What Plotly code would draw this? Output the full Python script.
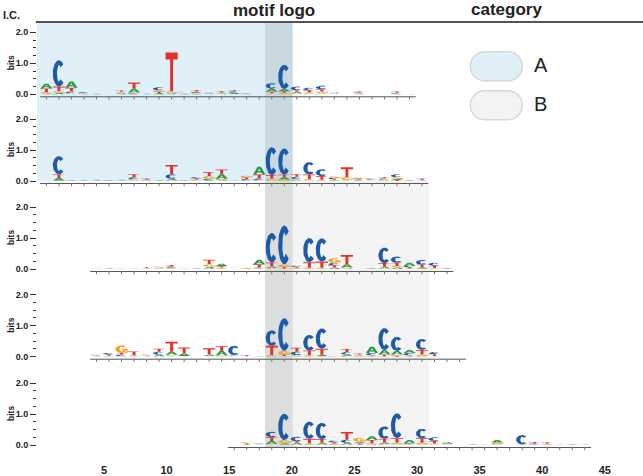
import numpy as np
import plotly.graph_objects as go

# ---------------- data ----------------
x_tick_vals = [5, 10, 15, 20, 25, 30, 35, 40, 45]
y_tick_vals = [0.0, 1.0, 2.0]
y_tick_text = ["0.0", "1.0", "2.0"]
letter_offset = 0.4          # logo columns sit at k + 0.4 on the position axis

categories = ["A", "B"]
category_span = {"A": (-0.35, 17.86), "B": (20.07, 30.98)}
core_span = (17.86, 20.07)

row1_start = 0
row1_A = [.15,.05,.20,.01,.01,0,.03,.12,.01,.04,.03,.02,.02,.02,.03,.04,.01,0,.10,.07,.05,.03,.03,.02,0,.01,0,0,.01,0]
row1_C = [.02,.85,.05,.03,.02,0,.02,.03,.01,.10,.02,.02,.04,.02,.01,.04,.01,0,.18,.78,.12,.08,.12,.02,0,.03,0,0,.03,.01]
row1_G = [.05,.05,.04,.01,0,0,.03,.03,.01,.05,.05,.03,.02,.01,.02,.01,0,0,.03,.05,.03,.03,.06,.01,0,.02,0,0,.01,0]
row1_T = [.12,.15,.12,.02,.01,0,.04,.20,.01,.04,1.25,.02,.05,.02,.04,.04,.01,0,.05,.05,.05,.07,.07,.01,0,.03,0,0,.04,.01]

row2_start = 0
row2_A = [0,.08,.01,.01,.01,.01,.01,.02,.02,.01,.05,.01,.02,.03,.15,.01,.02,.25,.02,.07,.03,.02,.02,.03,.02,.02,.02,.02,.04,.01,.01]
row2_C = [0,.58,.01,.01,.02,.01,.02,.06,.02,.01,.15,.01,.04,.05,.02,0,.04,.05,.90,.85,.08,.40,.22,.04,.02,.03,.03,.04,.10,.01,.02]
row2_G = [0,.02,.01,.01,.01,0,.01,.04,.01,.01,.02,.01,.03,.08,.05,0,.06,.03,.05,.05,.03,.04,.02,.05,.08,.04,.03,.02,.05,0,.01]
row2_T = [0,.12,.01,.01,.02,.01,.02,.10,.03,.02,.30,.01,.03,.12,.15,.01,.05,.13,.12,.08,.08,.15,.12,.03,.32,.03,.02,.04,.03,.01,.04]

row3_start = 4
row3_A = [.005,.01,0,.01,.01,.02,.02,0,.01,.05,.08,0,.01,.15,.05,.02,.02,.02,.02,.05,.10,.005,.01,.05,.05,.10,.04,.02,.01]
row3_C = [.005,.01,.005,0,.01,.02,.04,.005,.01,.02,.01,0,.01,.03,.95,1.25,.04,.78,.75,.08,.02,.005,.01,.50,.20,.05,.15,.10,.01]
row3_G = [.005,.01,0,0,.01,.01,.02,0,.01,.08,.04,.005,.02,.02,.03,.08,.02,.02,.02,.15,.03,0,0,.02,.05,.02,.02,.01,0]
row3_T = [.005,.01,.005,.01,.03,.02,.05,.005,.02,.15,.04,.005,.02,.10,.13,.05,.03,.18,.20,.07,.30,.005,.01,.12,.10,.03,.08,.07,.01]

row4_start = 4
row4_A = [.01,.02,.02,.03,.01,.05,.10,.08,.005,.05,.15,.03,.005,.01,.02,.02,.03,.03,.04,.005,.04,.02,.20,.15,.12,.10,.02,.01,.005,.005]
row4_C = [.02,.05,.05,.01,.02,.10,.02,.01,.005,.01,.01,.30,.005,.01,.50,1.05,.12,.50,.65,.005,.08,.02,.08,.70,.45,.08,.35,.07,.01,.005]
row4_G = [.01,.01,.25,.01,.01,.01,.04,.01,.005,.01,.03,.01,.005,0,.03,.12,.02,.02,.02,0,.03,.03,.02,.02,.04,.02,.05,.01,0,0]
row4_T = [.02,.04,.05,.12,.02,.10,.32,.20,.005,.20,.15,.01,.03,.01,.30,.05,.12,.15,.20,.01,.10,.03,.02,.05,.03,.02,.15,.06,.005,.005]

row5_start = 15
row5_A = [.005,.01,.03,.10,.04,.05,.03,.05,.03,.05,.05,.12,.05,.02,.10,.02,.02,.06,.005,.01,0,.08,0,.01,.01,.01,0,.01,0]
row5_C = [.005,.01,.01,.18,.85,.15,.55,.52,.05,.10,.02,.02,.40,.80,.03,.30,.12,.02,.005,.01,.005,.01,0,.30,.03,.01,.005,.01,.005]
row5_G = [0,.04,.01,.03,.10,.02,.02,.02,.02,.02,.12,.04,.03,.05,.02,.05,.03,.01,0,.01,0,.05,0,0,.01,.03,0,.005,0]
row5_T = [.01,.03,.02,.12,.02,.05,.15,.12,.04,.25,.04,.10,.12,.15,.01,.15,.08,.01,.005,.02,.005,.02,0,.01,.05,.04,.005,.01,.005]

rows = [
    (row1_start, row1_A, row1_C, row1_G, row1_T),
    (row2_start, row2_A, row2_C, row2_G, row2_T),
    (row3_start, row3_A, row3_C, row3_G, row3_T),
    (row4_start, row4_A, row4_C, row4_G, row4_T),
    (row5_start, row5_A, row5_C, row5_G, row5_T),
]

# ---------------- layout constants ----------------
W, H = 643, 476
ML = 37                       # left margin (px)
PLOT_W = W - ML
X_RANGE = [-0.351, 48.05]
ROW_ZERO_PX = [94.3, 181.0, 269.0, 356.7, 445.0]
PX_PER_BIT = 31.0
Y_RANGE = [-0.22, 2.05]
LETTER_W = 0.98
COLORS = {"A": "#2a9a45", "C": "#1f5aa8", "G": "#f5a31d", "T": "#e6302a"}
FONT = "Liberation Sans, Arial, Helvetica, sans-serif"


def py(px):
    return 1 - px / H


def pxx(px):
    return (px - ML) / PLOT_W


def ell(rx, ry, a0, a1, n=36):
    t = np.radians(np.linspace(a0, a1, n))
    return [(0.5 + rx * np.cos(a), 0.5 + ry * np.sin(a)) for a in t]


GLYPHS = {
    "A": [[(0, 0), (0.36, 1), (0.5, 1), (0.5, 0.74), (0.38, 0.44), (0.62, 0.44), (0.5, 0.74),
           (0.5, 1), (0.64, 1), (1, 0), (0.74, 0), (0.67, 0.25), (0.33, 0.25), (0.26, 0)]],
    "C": [ell(0.5, 0.5, 44, 316) + ell(0.16, 0.32, 316, 44)],
    "G": [ell(0.5, 0.5, 44, 335) + ell(0.16, 0.32, 335, 44),
          [(0.55, 0.54), (1.0, 0.54), (1.0, 0.04), (0.8, 0.04), (0.8, 0.38), (0.55, 0.38)]],
    "T": [[(0, 1), (1, 1), (1, 0.82), (0.62, 0.82), (0.62, 0), (0.38, 0), (0.38, 0.82), (0, 0.82)]],
}

fig = go.Figure()

for r, (start, a, c, g, t) in enumerate(rows):
    yname = "y" if r == 0 else f"y{r + 1}"
    heights = {"A": a, "C": c, "G": g, "T": t}
    n = len(a)
    paths = {L: ([], []) for L in "ACGT"}
    for i in range(n):
        xc = start + i + letter_offset
        stack = sorted([(heights[L][i], L) for L in "ACGT"])
        base = 0.0
        for h, L in stack:
            if h <= 0:
                continue
            xs, ys = paths[L]
            for poly in GLYPHS[L]:
                for (u, v) in poly:
                    xs.append(xc - LETTER_W / 2 + u * LETTER_W)
                    ys.append(base + v * h)
                xs.append(None)
                ys.append(None)
            base += h
    for L in "ACGT":
        xs, ys = paths[L]
        fig.add_trace(go.Scatter(x=xs, y=ys, mode="lines", fill="toself",
                                 fillcolor=COLORS[L], line=dict(width=0, color=COLORS[L]),
                                 xaxis="x", yaxis=yname, hoverinfo="skip", showlegend=False))
    # baseline and small position ticks
    x0 = start + letter_offset - 0.5
    x1 = start + n - 1 + letter_offset + 0.5
    fig.add_trace(go.Scatter(x=[x0, x1], y=[-0.08, -0.08], mode="lines",
                             line=dict(color="#555555", width=1), xaxis="x", yaxis=yname,
                             hoverinfo="skip", showlegend=False))
    tx, ty = [], []
    for i in range(n):
        xc = start + i + letter_offset
        tx += [xc, xc, None]
        ty += [-0.08, -0.17, None]
    fig.add_trace(go.Scatter(x=tx, y=ty, mode="lines", line=dict(color="#777777", width=1),
                             xaxis="x", yaxis=yname, hoverinfo="skip", showlegend=False))

# axes
layout = dict(
    width=W, height=H, margin=dict(l=ML, r=0, t=0, b=0),
    paper_bgcolor="white", plot_bgcolor="rgba(0,0,0,0)", showlegend=False,
    font=dict(family=FONT, color="#222222"),
    xaxis=dict(domain=[0, 1], range=X_RANGE, showgrid=False, zeroline=False, showline=False,
               tickvals=x_tick_vals, ticks="", anchor="free", position=py(462),
               tickfont=dict(size=11, weight="bold", color="#222222"), automargin=False),
)
for r in range(5):
    key = "yaxis" if r == 0 else f"yaxis{r + 1}"
    z = ROW_ZERO_PX[r]
    bottom = z - Y_RANGE[0] * PX_PER_BIT
    top = z - Y_RANGE[1] * PX_PER_BIT
    layout[key] = dict(domain=[py(bottom), py(top)], range=Y_RANGE, anchor="x",
                       showgrid=False, zeroline=False, showline=False,
                       tickvals=y_tick_vals, ticktext=y_tick_text, ticks="outside",
                       ticklen=6, tickwidth=1, tickcolor="#333333",
                       minor=dict(dtick=0.25, tick0=0, ticks="outside", ticklen=3,
                                  tickwidth=1, tickcolor="#333333"),
                       tickfont=dict(size=9, weight="bold", color="#222222"), automargin=False)
fig.update_layout(**layout)

# background regions
shapes = []
head_px = 22.0
split_px = ROW_ZERO_PX[1]
bottom_px = ROW_ZERO_PX[4] + 2
shapes.append(dict(type="rect", xref="x", yref="paper", x0=category_span["A"][0], x1=category_span["A"][1],
                   y0=py(split_px), y1=py(head_px), fillcolor="#dff0f8", line=dict(width=0), layer="below"))
shapes.append(dict(type="rect", xref="x", yref="paper", x0=category_span["B"][0], x1=category_span["B"][1],
                   y0=py(bottom_px), y1=py(split_px), fillcolor="#f4f4f4", line=dict(width=0), layer="below"))
shapes.append(dict(type="rect", xref="x", yref="paper", x0=core_span[0], x1=core_span[1],
                   y0=py(split_px), y1=py(head_px), fillcolor="#c9d9e1", line=dict(width=0), layer="below"))
shapes.append(dict(type="rect", xref="x", yref="paper", x0=core_span[0], x1=core_span[1],
                   y0=py(bottom_px), y1=py(split_px), fillcolor="#dcdddd", line=dict(width=0), layer="below"))
# header rule
shapes.append(dict(type="line", xref="paper", yref="paper", x0=pxx(36), x1=pxx(643),
                   y0=py(22), y1=py(22), line=dict(color="#555555", width=2)))


def pill_path(w, h):
    r = h / 2
    k = 0.5523 * r
    a = -w / 2 + r
    b = w / 2 - r
    return (f"M{a},{-r} L{b},{-r} C{b + k},{-r} {w / 2},{-k} {w / 2},0 "
            f"C{w / 2},{k} {b + k},{r} {b},{r} L{a},{r} C{a - k},{r} {-w / 2},{k} {-w / 2},0 "
            f"C{-w / 2},{-k} {a - k},{-r} {a},{-r} Z")


pill_fill = {"A": "#dff0f8", "B": "#f3f3f3"}
pill_cy = {"A": 66.2, "B": 105.3}
for cat in categories:
    shapes.append(dict(type="path", xref="paper", yref="paper", xsizemode="pixel", ysizemode="pixel",
                       xanchor=pxx(496.3), yanchor=py(pill_cy[cat]), path=pill_path(52, 29),
                       fillcolor=pill_fill[cat], line=dict(color="#d8d8d8", width=1.5)))
fig.update_layout(shapes=shapes)

ann = []
ann.append(dict(text="I.C.", x=pxx(1), y=py(15), xref="paper", yref="paper", xanchor="left",
                yanchor="middle", showarrow=False, font=dict(size=11, weight="bold", color="#222222")))
ann.append(dict(text="motif logo", x=pxx(274), y=py(10), xref="paper", yref="paper", xanchor="center",
                yanchor="middle", showarrow=False, font=dict(size=17, weight="bold", color="#222222")))
ann.append(dict(text="category", x=pxx(506), y=py(9), xref="paper", yref="paper", xanchor="center",
                yanchor="middle", showarrow=False, font=dict(size=17, weight="bold", color="#222222")))
for cat in categories:
    ann.append(dict(text=cat, x=pxx(532), y=py(pill_cy[cat] - 1), xref="paper", yref="paper",
                    xanchor="left", yanchor="middle", showarrow=False,
                    font=dict(size=20, color="#222222")))
for r in range(5):
    ann.append(dict(text="bits", x=pxx(11), y=py(ROW_ZERO_PX[r] - PX_PER_BIT), xref="paper", yref="paper",
                    xanchor="center", yanchor="middle", textangle=-90, showarrow=False,
                    font=dict(size=8.5, weight="bold", color="#222222")))
fig.update_layout(annotations=ann)

fig.write_html("out.html", config={"displayModeBar": False},
               post_script="document.body.style.margin='0px';")
